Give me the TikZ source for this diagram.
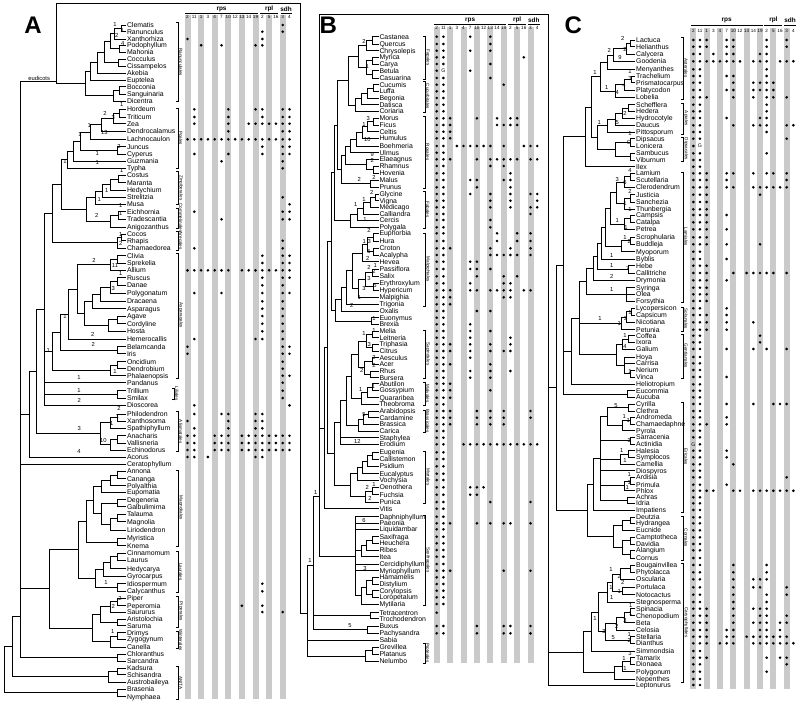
\documentclass[tikz,border=0pt]{standalone}
\usepackage{fontspec}
\newfontfamily\lsans{Liberation Sans}
\definecolor{barc}{RGB}{202,202,202}
\newdimen\tmpdy
\makeatletter
\newcommand\cl[4][]{%
  \gdef\ymn{10000}\gdef\ymx{-10000}%
  \foreach \ch in {#4}{%
    \pgfpointanchor{\ch}{center}\tmpdy=-\pgf@y
    \pgfmathsetmacro\tmpv{min(\ymn,\tmpdy)}\xdef\ymn{\tmpv}%
    \pgfmathsetmacro\tmpv{max(\ymx,\tmpdy)}\xdef\ymx{\tmpv}%
  }%
  \if\relax\detokenize{#1}\relax
    \pgfmathsetmacro\ymid{(\ymn+\ymx)/2}%
  \else
    \def\ymid{#1}%
  \fi
  \coordinate (#2) at (#3,\ymid);
  \foreach \ch in {#4}{\draw[tln] (\ch) -| (#2);}%
}
\makeatother
\newcommand\lf[4]{%
  \coordinate (#1) at (\nmx,#2);
  \node[nm] at (\nmx+0.8,#2+2.4) {#3};
  \if\relax\detokenize{#4}\relax\else
    \foreach \k in {#4}{\fill ({\cxz+\cst*\k},#2) circle[radius=1.45pt];}%
  \fi
}
\newcommand\bars[2]{%
  \foreach \k in {0,2,...,14}{\fill[barc] ({\cxz+\cst*\k-3},#1) rectangle ({\cxz+\cst*\k+3},#2);}%
}
\newcommand\hdr[3]{%
  \node[hd] at ({\cxz+5*\cst},#1) {rps};
  \node[hd] at ({\cxz+12*\cst},#1) {rpl};
  \node[hd] at ({\cxz+14.5*\cst},#1) {sdh};
  \draw[hl] ({\cxz-2.5},#2) -- ({\cxz+10*\cst+2.5},#2);
  \draw[hl] ({\cxz+11*\cst-2.5},#2) -- ({\cxz+13*\cst+2},#2);
  \draw[hl] ({\cxz+14*\cst-2.2},#2) -- ({\cxz+15*\cst+2.5},#2);
  \foreach \lab [count=\i from 0] in {2,11,1,3,4,7,10,12,13,14,19,2,5,16,3,4}
    {\node[cn] at ({\cxz+\cst*\i},#3) {\lab};}%
}
\newcommand\brk[4]{%
  \draw[brk] (#1-2,#2) -- (#1,#2) -- (#1,#3) -- (#1-2,#3);
  \node[clab] at (#1+2.8,{(#2+#3)/2}) {#4};
}
\begin{document}
\begin{tikzpicture}[x=1pt,y=-1pt,
 tln/.style={line width=0.9pt},
 nm/.style={anchor=base west,inner sep=0pt,font=\lsans\fontsize{6.9}{7}\selectfont},
 bnum/.style={inner sep=0pt,font=\lsans\fontsize{5.8}{6}\selectfont},
 hd/.style={inner sep=0pt,font=\lsans\bfseries\fontsize{6.4}{7}\selectfont},
 cn/.style={inner sep=0pt,font=\lsans\fontsize{4.6}{5}\selectfont},
 hl/.style={line width=1pt},
 brk/.style={line width=0.6pt},
 clab/.style={inner sep=0pt,rotate=-90,font=\lsans\fontsize{4.6}{5}\selectfont},
 gm/.style={inner sep=0pt,font=\lsans\fontsize{5.2}{5}\selectfont},
 plab/.style={inner sep=0pt,font=\lsans\bfseries\fontsize{24}{24}\selectfont}]
\useasboundingbox (0,0) rectangle (800,704);
\fill[white] (0,0) rectangle (800,704);
% ================= PANEL A =================
\def\cxz{187.5}\def\cst{6.8}\def\nmx{126}
\bars{15}{699}
\hdr{9}{13.3}{17.3}
\node[plab] at (33,25) {A};
\lf{aClem}{25}{Clematis}{14}
\lf{aRanu}{31.7}{Ranunculus}{11,14}
\lf{aXant}{39}{Xanthorhiza}{0,11}
\lf{aPodo}{45.3}{Podophyllum}{2,5,10,11}
\lf{aMaho}{52.3}{Mahonia}{}
\lf{aCocc}{59.3}{Cocculus}{}
\lf{aCiss}{66.3}{Cissampelos}{}
\lf{aAkeb}{73.3}{Akebia}{}
\lf{aEupt}{80.3}{Euptelea}{}
\lf{aBocc}{86.7}{Bocconia}{}
\lf{aSang}{94}{Sanguinaria}{}
\lf{aDice}{101.3}{Dicentra}{}
\lf{aHord}{109.3}{Hordeum}{1,6,10,11,14,15}
\lf{aTrit}{117}{Triticum}{1,6,11,14,15}
\lf{aZea}{123.7}{Zea}{1,6,9,10,11,12,13,14,15}
\lf{aDend}{131.3}{Dendrocalamus}{6,14,15}
\lf{aLach}{139.3}{Lachnocaulon}{0,...,15}
\lf{aJunc}{146.7}{Juncus}{11,14,15}
\lf{aCype}{154}{Cyperus}{1,6,11,14,15}
\lf{aGuzm}{161.3}{Guzmania}{5,14}
\lf{aTyph}{168.3}{Typha}{14}
\lf{aCost}{175.3}{Costus}{}
\lf{aMara}{182.7}{Maranta}{}
\lf{aHedy}{190.3}{Hedychium}{}
\lf{aStre}{197.3}{Strelitzia}{14}
\lf{aMusa}{204.3}{Musa}{15}
\lf{aEich}{211.7}{Eichhornia}{1,14,15}
\lf{aTrad}{219.3}{Tradescantia}{5,14,15}
\lf{aAnig}{227}{Anigozanthus}{}
\lf{aCoco}{234.3}{Cocos}{}
\lf{aRhap}{240.7}{Rhapis}{14}
\lf{aCham}{248.3}{Chamaedorea}{1,14}
\lf{aCliv}{255.7}{Clivia}{11,14,15}
\lf{aSpre}{263}{Sprekelia}{11,14,15}
\lf{aAlli}{270.3}{Allium}{0,1,2,3,4,5,6,8,9,10,11,12,13,14,15}
\lf{aRusc}{277.7}{Ruscus}{11,14,15}
\lf{aDana}{285.3}{Danae}{11,14}
\lf{aPoly}{293}{Polygonatum}{1,5,11,14,15}
\lf{aDrac}{301.3}{Dracaena}{11,14}
\lf{aAspa}{308.7}{Asparagus}{11,14}
\lf{aAgav}{316}{Agave}{11,14}
\lf{aCord}{323.7}{Cordyline}{11,14}
\lf{aHost}{331.3}{Hosta}{11,14}
\lf{aHeme}{339}{Hemerocallis}{1,10,11,14}
\lf{aBela}{346.7}{Belamcanda}{0,14,15}
\lf{aIris}{353.7}{Iris}{0,14,15}
\lf{aOnci}{361.7}{Oncidium}{14}
\lf{aDenb}{368.7}{Dendrobium}{14}
\lf{aPhal}{375.7}{Phalaenopsis}{14,15}
\lf{aPand}{382.7}{Pandanus}{14}
\lf{aTril}{390.7}{Trillium}{14}
\lf{aSmil}{398}{Smilax}{14}
\lf{aDios}{405.3}{Dioscorea}{1,15}
\lf{aPhil}{414}{Philodendron}{1,5,6,10,11}
\lf{aXans}{421}{Xanthosoma}{0,6,10,11}
\lf{aSpat}{428.3}{Spathiphyllum}{1,6,10,11}
\lf{aAnac}{435.7}{Anacharis}{0,1,4,5,6,8,9,10,11,12,13,14,15}
\lf{aVall}{443}{Vallisneria}{0,1,4,5,6,8,9,10,11,12,13,14,15}
\lf{aEchi}{450}{Echinodorus}{0,1,4,5,6,8,9,10,11,12,13,14,15}
\lf{aAcor}{457}{Acorus}{0,1,3,10,11}
\lf{aCera}{464.3}{Ceratophyllum}{}
\lf{aAnno}{471.3}{Annona}{}
\lf{aCana}{478.7}{Cananga}{}
\lf{aPola}{485.7}{Polyalthia}{}
\lf{aEupo}{492.3}{Eupomatia}{}
\lf{aDege}{499.7}{Degeneria}{}
\lf{aGalb}{506.7}{Galbulimima}{}
\lf{aTala}{514.3}{Talauma}{}
\lf{aMagn}{521.7}{Magnolia}{}
\lf{aLiri}{530.3}{Liriodendron}{}
\lf{aMyri}{538.3}{Myristica}{}
\lf{aKnem}{545.7}{Knema}{}
\lf{aCinn}{553}{Cinnamomum}{}
\lf{aLaur}{560.3}{Laurus}{}
\lf{aHedc}{568.7}{Hedycarya}{}
\lf{aGyro}{576}{Gyrocarpus}{}
\lf{aIdio}{583.7}{Idiospermum}{11}
\lf{aCaly}{591.3}{Calycanthus}{11}
\lf{aPipe}{598}{Piper}{}
\lf{aPepe}{605.7}{Peperomia}{8,11}
\lf{aSaur}{612}{Saururus}{11,14}
\lf{aAris}{619}{Aristolochia}{}
\lf{aSaru}{625.7}{Saruma}{}
\lf{aDrim}{632.7}{Drimys}{}
\lf{aZygo}{639.3}{Zygogynum}{}
\lf{aCane}{647}{Canella}{}
\lf{aChlo}{654}{Chloranthus}{}
\lf{aSarc}{661.3}{Sarcandra}{}
\lf{aKads}{668.3}{Kadsura}{}
\lf{aSchi}{674.7}{Schisandra}{}
\lf{aAust}{682}{Austrobaileya}{}
\lf{aBras}{689}{Brasenia}{}
\lf{aNymp}{696.7}{Nymphaea}{}
% tree A
\cl{aCR}{121}{aClem,aRanu}
\cl{aCRX}{114}{aCR,aXant}
\cl{aPM}{119}{aPodo,aMaho}
\cl{aR4}{110}{aCRX,aPM}
\cl{aCC}{118}{aCocc,aCiss}
\cl{aR3}{104}{aR4,aCC}
\cl{aR2}{97}{aR3,aAkeb}
\cl{aR1}{90}{aR2,aEupt}
\cl{aBS}{119}{aBocc,aSang}
\cl{aPap}{113}{aBS,aDice}
\cl{aRAN}{85}{aR1,aPap}
\cl{aHT}{119}{aHord,aTrit}
\cl{aHTZ}{113}{aHT,aZea}
\cl{aP1}{101}{aHTZ,aDend}
\cl{aP2}{90}{aP1,aLach}
\cl{aJC}{117}{aJunc,aCype}
\cl{aP3}{80}{aP2,aJC}
\cl{aP4}{73}{aP3,aGuzm}
\cl{aPOA}{67}{aP4,aTyph}
\cl{aCM}{118}{aCost,aMara}
\cl{aZ1}{110}{aCM,aHedy}
\cl{aZ2}{102}{aZ1,aStre}
\cl{aZIN}{95}{aZ2,aMusa}
\cl{aET}{118}{aEich,aTrad}
\cl{aCOM}{110}{aET,aAnig}
\cl{aZC}{86}{aZIN,aCOM}
\cl{aPZ}{61}{aPOA,aZC}
\cl{aCoR}{121}{aCoco,aRhap}
\cl{aARE}{117}{aCoR,aCham}
\cl{aCOMM}{52.7}{aPZ,aARE}
\cl{aCS}{117}{aCliv,aSpre}
\cl{aAM}{110}{aCS,aAlli}
\cl{aRD}{117}{aRusc,aDana}
\cl{aRDP}{110}{aRD,aPoly}
\cl{aRDPD}{100}{aRDP,aDrac}
\cl{aRDPDA}{92}{aRDPD,aAspa}
\cl{aAC}{117}{aAgav,aCord}
\cl{aACH}{108}{aAC,aHost}
\cl{aA1}{84}{aRDPDA,aACH}
\cl{aA2}{77}{aAM,aA1}
\cl{aA3}{68}{aA2,aHeme}
\cl{aBI}{117}{aBela,aIris}
\cl{aA4}{60}{aA3,aBI}
\cl{aOD}{117}{aOnci,aDenb}
\cl{aOR}{110}{aOD,aPhal}
\cl{aASP}{52}{aA4,aOR}
\cl{aLIL}{117}{aTril,aSmil}
\cl{aMON1}{44.3}{aCOMM,aASP,aPand,aLIL,aDios}
\cl{aPX}{117}{aPhil,aXans}
\cl{aARA}{110}{aPX,aSpat}
\cl{aAV}{117}{aAnac,aVall}
\cl{aHYD}{110}{aAV,aEchi}
\cl{aALI}{100}{aARA,aHYD}
\cl{aMON2}{36}{aMON1,aALI}
\cl{aMON3}{29.3}{aMON2,aAcor}
\cl{aAC2}{117}{aAnno,aCana}
\cl{aACP}{110}{aAC2,aPola}
\cl{aANN}{101}{aACP,aEupo}
\cl{aDG}{117}{aDege,aGalb}
\cl{aTM}{117}{aTala,aMagn}
\cl{aTML}{110}{aTM,aLiri}
\cl{aDGM}{101}{aDG,aTML}
\cl{aM1}{93}{aANN,aDGM}
\cl{aMK}{117}{aMyri,aKnem}
\cl{aMAG}{86}{aM1,aMK}
\cl{aCL}{117}{aCinn,aLaur}
\cl{aCLH}{110}{aCL,aHedc}
\cl{aCLHG}{103}{aCLH,aGyro}
\cl{aIC}{117}{aIdio,aCaly}
\cl{aLAU}{95}{aCLHG,aIC}
\cl{aML}{78}{aMAG,aLAU}
\cl{aPP}{117}{aPipe,aPepe}
\cl{aPPS}{110}{aPP,aSaur}
\cl{aAS}{117}{aAris,aSaru}
\cl{aPIP}{100}{aPPS,aAS}
\cl{aDZ}{117}{aDrim,aZygo}
\cl{aCAN}{110}{aDZ,aCane}
\cl{aPW}{92}{aPIP,aCAN}
\cl{aMLPW}{49.3}{aML,aPW}
\cl{aCS2}{117}{aChlo,aSarc}
\cl{aKS}{117}{aKads,aSchi}
\cl{aAUS}{108}{aKS,aAust}
\cl{aBN}{117}{aBras,aNymp}
\coordinate (aEU) at (56.7,81.7);
\cl[616.7]{aANG1}{20.7}{aEU,aMON3,aCera,aMLPW,aCS2}
\cl{aANG2}{12.3}{aANG1,aAUS}
\cl{aROOT}{4}{aANG2,aBN}
\node[bnum] at (39.2,78.3) {eudicots};
\foreach \x/\y/\t in {115/25/1,122.3/30.7/1,116.7/35/2,122.7/43.3/4,121.7/105/1,105/113.3/2,113.3/117.3/3,89.3/126/1,80/135/1,104.3/132.7/13,97.3/154/1,119/146.7/2,65/161.7/1,97.3/162.3/1,121.7/170.7/1,106.7/190.7/1,99.3/199.3/1,120.7/206/1,120.7/213.3/1,96.7/215/2,120.7/234.3/1,120.7/243.3/2,94/260/2,115/265.7/11,120.7/273.3/1,113.3/288.3/3,65/316.7/1,92.7/334.3/2,93.3/344.3/2,48.3/350/1,115/371/1,79/377.7/1,79/390/1,79.3/400.7/2,119/408.3/2,117.3/416/1,111.7/423.3/1,79.3/428.3/3,103.3/440/10,79/451.7/4,106/582.7/1,120/598.3/2,113.3/606/2,112.7/631/1}
  {\node[bnum] at (\x,\y) {\t};}
\brk{178}{22.7}{101.7}{Ranunculales}
\brk{178}{108}{168.5}{Poales}
\brk{178}{171.7}{204}{Zingiberales}
\brk{178}{208}{228}{Commelinales}
\brk{178}{231.7}{250}{Arecales}
\brk{178}{253}{378}{Asparagales}
\brk{174}{388}{399}{Liliales}
\brk{178}{411.7}{451.7}{Alismatales}
\brk{178}{470}{546}{Magnoliales}
\brk{178}{551.7}{592}{Laurales}
\brk{178}{596}{627}{Piperales}
\brk{178}{631.7}{648.3}{Winterales}
\brk{178}{666.7}{699}{ANITA}
% ================= PANEL B =================
\def\cxz{436.7}\def\cst{6.7}\def\nmx{378.5}
\bars{26.5}{663}
\hdr{20}{24}{28.3}
\node[plab] at (328.3,25) {B};
\lf{bCast}{36.7}{Castanea}{0,1,5,8}
\lf{bQuer}{44}{Quercus}{0,1,8}
\lf{bChry}{50.7}{Chrysolepis}{0,1,5,8}
\lf{bMyri}{57.3}{Myrica}{0,1,13}
\lf{bCary}{64}{Carya}{0,1,8}
\lf{bBetu}{70.7}{Betula}{0,5}
\node[gm] at ({\cxz+\cst},70.7) {G};
\lf{bCasu}{78}{Casuarina}{0,1,8}
\lf{bCucu}{84.7}{Cucumis}{0,1,10}
\lf{bLuff}{91.3}{Luffa}{0,1}
\lf{bBego}{98}{Begonia}{0,1}
\lf{bDati}{104.7}{Datisca}{0,1}
\lf{bCori}{111.3}{Coriaria}{0,1}
\lf{bMoru}{118.3}{Morus}{0,1,2,6,9,11,12}
\lf{bFicu}{125}{Ficus}{0,1,2,9,10,11,12}
\lf{bCelt}{131.7}{Celtis}{0,1,2}
\lf{bHumu}{138.3}{Humulus}{0,1,2}
\lf{bBoeh}{146}{Boehmeria}{0,1,3,4,5,6,7,8,10,13,14,15}
\lf{bUlmu}{152.7}{Ulmus}{0,1}
\lf{bElae}{159.3}{Elaeagnus}{0,1,2,6,8,9,10,11,12,14,15}
\lf{bRham}{166}{Rhamnus}{0,1,8,10}
\lf{bHove}{173.3}{Hovenia}{0,1,11}
\lf{bMalu}{180}{Malus}{0,1,5,6,10,11}
\lf{bPrun}{187.3}{Prunus}{0,1,6,11}
\lf{bGlyc}{194}{Glycine}{0,1,5,8,11,14,15}
\lf{bVign}{200.7}{Vigna}{0,1,8,11,15}
\lf{bMedi}{207.3}{Medicago}{0,1,8,11,14,15}
\lf{bCall}{214}{Calliandra}{0,1,14}
\lf{bCerc}{220}{Cercis}{0,1,8}
\lf{bPolg}{227.3}{Polygala}{0,1,8}
\lf{bEuph}{233.3}{Euphorbia}{0,1,9,12,14}
\lf{bHura}{241}{Hura}{0,1,9,12,14}
\lf{bCrot}{248.3}{Croton}{0,1,2,8,11,14}
\lf{bAcal}{255}{Acalypha}{0,1,8,9,10,11,12,14}
\lf{bHeve}{261.7}{Hevea}{0,1,5,6}
\lf{bPass}{269}{Passiflora}{0,1,5,6,8}
\lf{bSali}{276.3}{Salix}{0,1,6,10,12}
\lf{bEryt}{283.3}{Erythroxylum}{0,1,5,10,11}
\lf{bHype}{290.3}{Hypericum}{0,1,2,5,6,8,9,10,11,13,14}
\lf{bMalp}{297.3}{Malpighia}{0,1,2,10,11}
\lf{bTrig}{304.3}{Trigonia}{0,1,2}
\lf{bOxal}{311}{Oxalis}{0,1,6,8}
\lf{bEuon}{317.7}{Euonymus}{0,1}
\lf{bBrex}{324.3}{Brexia}{0,1,5}
\lf{bMeli}{331}{Melia}{0,1,5,8}
\lf{bLeit}{337.7}{Leitneria}{0,1,5,11}
\lf{bTrip}{344.3}{Triphasia}{0,1,2,5,8,11}
\lf{bCitr}{351}{Citrus}{0,1,2,5,8,10,11}
\lf{bAesc}{357.7}{Aesculus}{0,1,5}
\lf{bAcer}{364.3}{Acer}{0,1,2,8}
\lf{bRhus}{371}{Rhus}{0,1,5,8,11}
\lf{bBurs}{377.7}{Bursera}{0,1,5,8}
\lf{bAbut}{383.7}{Abutilon}{0,1,2}
\lf{bGoss}{390.3}{Gossypium}{0,1,2,8}
\lf{bQuar}{397.7}{Quararibea}{0,1,2}
\lf{bTheo}{404.3}{Theobroma}{0,1}
\lf{bArab}{411}{Arabidopsis}{0,1,2,6,8,10,14}
\lf{bCard}{417.7}{Cardamine}{0,1,2,6,8,10,14}
\lf{bBras}{424.3}{Brassica}{0,1,2,6,8,10}
\lf{bCari}{431}{Carica}{0,1}
\lf{bStap}{437.7}{Staphylea}{0,1}
\lf{bErod}{444.3}{Erodium}{0,1,4,5,6,7,8,9,10,11,12,13,14,15}
\lf{bEuge}{452.3}{Eugenia}{0,1}
\lf{bCals}{459}{Callistemon}{0,1}
\lf{bPsid}{466.3}{Psidium}{0,1}
\lf{bEuca}{473.7}{Eucalyptus}{0,1}
\lf{bVoch}{480}{Vochysia}{0,1}
\lf{bOeno}{487.3}{Oenothera}{0,1,5,6,7}
\lf{bFuch}{494.7}{Fuchsia}{0,1,5,6}
\lf{bPuni}{502}{Punica}{0,1,8,14}
\lf{bViti}{508.7}{Vitis}{0,1}
\lf{bDaph}{516.7}{Daphniphyllum}{0,1}
\lf{bPaeo}{523.3}{Paeonia}{0,1,2,6,8,10,11,14}
\lf{bLiqu}{529.3}{Liquidambar}{0,1}
\lf{bSaxi}{536.7}{Saxifraga}{0,1}
\lf{bHeuc}{543.3}{Heuchera}{0,1}
\lf{bRibe}{550}{Ribes}{0,1}
\lf{bItea}{556.7}{Itea}{0,1}
\lf{bCerd}{564}{Cercidiphyllum}{0,1}
\lf{bMyrp}{570.7}{Myriophyllum}{0,1,2,10,14}
\lf{bHama}{577.3}{Hamamelis}{0,1}
\lf{bDist}{584}{Distylium}{0,1}
\lf{bCory}{590.7}{Corylopsis}{0,1}
\lf{bLoro}{597.3}{Loropetalum}{0,1}
\lf{bMyti}{604}{Mytilaria}{0,1}
\lf{bTetr}{612.7}{Tetracentron}{0}
\lf{bTroc}{618.7}{Trochodendron}{}
\lf{bBuxu}{626}{Buxus}{0,1,6,10,11,14}
\lf{bPach}{633.3}{Pachysandra}{0,1,6,10,11,14}
\lf{bSabi}{640}{Sabia}{}
\lf{bGrev}{647.3}{Grevillea}{}
\lf{bPlat}{654}{Platanus}{}
\lf{bNelu}{661.3}{Nelumbo}{}
% tree B
\cl{bCQ}{372}{bCast,bQuer}
\cl{bCQC}{366}{bCQ,bChry}
\cl{bMC}{372}{bMyri,bCary}
\cl{bBC}{372}{bBetu,bCasu}
\cl{bMCBC}{366}{bMC,bBC}
\cl{bFAG}{358}{bCQC,bMCBC}
\cl{bCL}{373}{bCucu,bLuff}
\cl{bCLB}{367}{bCL,bBego}
\cl{bCLBD}{361}{bCLB,bDati}
\cl{bCUC}{355}{bCLBD,bCori}
\cl{bFC}{348}{bFAG,bCUC}
\cl{bMF}{373}{bMoru,bFicu}
\cl{bMFC}{367}{bMF,bCelt}
\cl{bMFCH}{362}{bMFC,bHumu}
\cl{bURT}{356}{bMFCH,bBoeh}
\cl{bURTU}{350}{bURT,bUlmu}
\cl{bRH}{373}{bRham,bHove}
\cl{bERH}{366}{bElae,bRH}
\cl{bROS1}{345}{bURTU,bERH}
\cl{bMP}{370}{bMalu,bPrun}
\cl{bROS}{341}{bROS1,bMP}
\cl{bFCR}{337}{bFC,bROS}
\cl{bGV}{375}{bGlyc,bVign}
\cl{bGVM}{370}{bGV,bMedi}
\cl{bGVMC}{363}{bGVM,bCall}
\cl{bGVMCC}{357}{bGVMC,bCerc}
\cl{bFAB}{350}{bGVMCC,bPolg}
\cl{bNFC}{334}{bFCR,bFAB}
\cl{bEH}{373}{bEuph,bHura}
\cl{bCA}{373}{bCrot,bAcal}
\cl{bEHCA}{367}{bEH,bCA}
\cl{bEUP}{362}{bEHCA,bHeve}
\cl{bPS}{372}{bPass,bSali}
\cl{bEHY}{373}{bEryt,bHype}
\cl{bPE}{365}{bPS,bEHY}
\cl{bPEM}{358}{bPE,bMalp}
\cl{bMAL1}{352}{bEUP,bPEM}
\cl{bMALP}{346}{bMAL1,bTrig}
\cl{bMO}{341}{bMALP,bOxal}
\cl{bCEL}{371}{bEuon,bBrex}
\cl{bMOC}{335}{bMO,bCEL}
\cl{bFABID}{331}{bNFC,bMOC}
\cl{bML}{372}{bMeli,bLeit}
\cl{bTC}{372}{bTrip,bCitr}
\cl{bMLTC}{366}{bML,bTC}
\cl{bAA}{372}{bAesc,bAcer}
\cl{bRB}{370}{bRhus,bBurs}
\cl{bAARB}{364}{bAA,bRB}
\cl{bSAP}{358}{bMLTC,bAARB}
\cl{bAG}{372}{bAbut,bGoss}
\cl{bAGQ}{367}{bAG,bQuar}
\cl{bMALV}{361}{bAGQ,bTheo}
\cl{bSM}{351}{bSAP,bMALV}
\cl{bACa}{368}{bArab,bCard}
\cl{bACB}{363}{bACa,bBras}
\cl{bBRA}{358}{bACB,bCari}
\cl{bSMB}{346}{bSM,bBRA}
\cl{bSMBS}{340}{bSMB,bStap,bErod}
\cl{bEC}{372}{bEuge,bCals}
\cl{bECP}{367}{bEC,bPsid}
\cl{bECPE}{362}{bECP,bEuca}
\cl{bMYR1}{357}{bECPE,bVoch}
\cl{bOF}{372}{bOeno,bFuch}
\cl{bOFP}{365}{bOF,bPuni}
\cl{bMYRT}{350}{bMYR1,bOFP}
\cl{bMALVID}{334}{bSMBS,bMYRT}
\cl{bCR}{327.5}{bFABID,bMALVID}
\cl{bROSID}{324}{bCR,bViti}
\cl{bSH}{372}{bSaxi,bHeuc}
\cl{bSHR}{366}{bSH,bRibe}
\cl{bSHRI}{361}{bSHR,bItea}
\cl{bHD}{372}{bHama,bDist}
\cl{bCLo}{372}{bCory,bLoro}
\cl{bHDCL}{366}{bHD,bCLo}
\cl{bHAM}{361}{bHDCL,bMyti}
\cl{bSAX}{355}{bDaph,bPaeo,bLiqu,bSHRI,bCerd,bMyrp,bHAM}
\cl[496.7]{bCORE}{319.3}{bROSID,bSAX}
\cl{bTRO}{370}{bTetr,bTroc}
\cl{bBUX}{367}{bBuxu,bPach}
\cl[565]{bE3}{313.3}{bCORE,bTRO,bBUX}
\cl{bGP}{372}{bGrev,bPlat}
\cl{bPRO}{365}{bGP,bNelu}
\cl[613.3]{bE2}{307.7}{bE3,bSabi,bPRO}
\foreach \x/\y/\t in {364/41.7/2,367.3/66.7/1,368.3/118.3/3,364/124.3/1,367.3/140/10,372.3/154.3/9,372.3/160/2,359.3/179.3/2,374/177.7/2,371.7/192.7/2,364/199.3/1,355.7/205/1,365/219.3/1,369/230.7/2,364.3/241.7/1,369.3/241.7/3,369/251.7/5,367.7/258.3/2,369/267.7/2,375.3/265.7/1,374/271.7/2,369/278.3/3,375/285.7/5,364/288.3/3,359.3/297.7/1,351.7/305.7/2,374/318.3/1,374/331/1,364/333.7/1,369.3/344.3/3,374/357.7/2,374/365/2,361.7/370/2,360.7/389/1,373.3/386.7/1,364/415/5,357.3/441.7/12,374/484/1,367.3/487.3/2,370/498.3/2,315.7/492.3/1,364/520.7/6,310/560/1,365/568.3/3,350/625.7/5}
  {\node[bnum] at (\x,\y) {\t};}
\brk{425}{36}{79}{Fagales}
\brk{425}{81}{112}{Cucurbitales}
\brk{425}{116}{188}{Rosales}
\brk{425}{191}{228}{Fabales}
\brk{425}{233}{306}{Malpighiales}
\brk{425}{330}{378}{Sapindales}
\brk{425}{382}{405}{Malvales}
\brk{425}{410}{432}{Brassicales}
\brk{425}{451}{503}{Myrtales}
\brk{425}{515}{605}{Saxifragales}
\brk{425}{643}{663}{Proteales}
% ================= PANEL C =================
\def\cxz{693.3}\def\cst{6.67}\def\nmx{635.2}
\bars{28}{688.5}
\hdr{20}{25}{30.7}
\node[plab] at (573.3,25) {C};
\lf{cLact}{40}{Lactuca}{0,1,2,5,6,11,14}
\lf{cHeli}{46.7}{Helianthus}{0,1,2,5,6,11,14}
\lf{cCaly}{54}{Calycera}{0,1,3,5,6,10,11}
\lf{cGood}{61.3}{Goodenia}{0,1,2,3,4,5,6,7,9,10,11,13,14,15}
\lf{cMeny}{69.3}{Menyanthes}{0,1,11}
\lf{cTrac}{76}{Trachelium}{0,1,5,6,11}
\lf{cPris}{82.7}{Prismatocarpus}{0,1,6,9,10,11,12}
\lf{cPlat}{90}{Platycodon}{0,1,5,6,9,10,11,12}
\lf{cLobe}{97.3}{Lobelia}{0,1,2,6,9,11,12,14}
\lf{cSche}{104.7}{Schefflera}{0,1,11}
\lf{cHede}{111.3}{Hedera}{0,1,11}
\lf{cHydr}{118}{Hydrocotyle}{0,1,5,10,11}
\lf{cDauc}{125.3}{Daucus}{0,1,6,9,10,11,14,15}
\lf{cPitt}{132}{Pittosporum}{0,1,11}
\lf{cDips}{138.7}{Dipsacus}{0,1,14}
\lf{cLoni}{146}{Lonicera}{0}
\node[gm] at ({\cxz+\cst},146) {G};
\lf{cSamb}{153.3}{Sambucus}{0,1,11}
\lf{cVibu}{160}{Viburnum}{0,1}
\lf{cIlex}{166.7}{Ilex}{0,1}
\lf{cLami}{173.3}{Lamium}{0,1,2,5,6,9,11,12,14}
\lf{cScut}{180}{Scutellaria}{0,1,2,5,14}
\lf{cCler}{187.3}{Clerodendrum}{0,1,2,5,6,9,10,11,12,13,14}
\lf{cJust}{194.7}{Justicia}{0,1,2,10}
\lf{cSanc}{202}{Sanchezia}{0,1,2}
\lf{cThun}{209.3}{Thunbergia}{0,1,2}
\lf{cCamp}{215}{Campsis}{0,1,2,5}
\lf{cCata}{222.3}{Catalpa}{0,1,2}
\lf{cPetr}{229.3}{Petrea}{0,1,2,5}
\lf{cScro}{237.3}{Scrophularia}{0,1,2}
\lf{cBudd}{244.3}{Buddleja}{0,1,2,5,10}
\lf{cMyop}{251.7}{Myoporum}{0,1}
\lf{cBybl}{259}{Byblis}{0,1,5}
\lf{cHebe}{265.7}{Hebe}{0,1,2}
\lf{cCall}{273}{Callitriche}{0,1,2,6,8,9,10,11,12,14}
\lf{cDrym}{280.3}{Drymonia}{0,1,2,5}
\lf{cSyri}{287.7}{Syringa}{0,1,2}
\lf{cOlea}{294.3}{Olea}{0,1,2}
\lf{cFors}{301}{Forsythia}{0,1,2}
\lf{cLyco}{308.3}{Lycopersicon}{0,1,5}
\lf{cCaps}{315}{Capsicum}{0,1,2,5}
\lf{cNico}{322.3}{Nicotiana}{0,1,2,5,9}
\lf{cPetu}{329.7}{Petunia}{0,1,2,5}
\lf{cCoff}{335.7}{Coffea}{0,1,10}
\lf{cIxor}{342.3}{Ixora}{0,1,10}
\lf{cGali}{349}{Galium}{0,1,5,9,11,14}
\lf{cHoya}{357}{Hoya}{0,1}
\lf{cCarr}{363.3}{Carrisa}{0,1}
\lf{cNeri}{370}{Nerium}{0,1}
\lf{cVinc}{377}{Vinca}{0,1,5}
\lf{cHelt}{384.3}{Heliotropium}{0,1}
\lf{cEuco}{390.7}{Eucommia}{0,1}
\lf{cAucu}{397.3}{Aucuba}{0,1}
\lf{cCyri}{404}{Cyrilla}{0,1,5,9,12,13,14}
\lf{cClet}{411}{Clethra}{0,1}
\lf{cAndr}{417.3}{Andromeda}{0,1,5}
\lf{cCham}{424.3}{Chamaedaphne}{0,1,2,5}
\lf{cPyro}{430.7}{Pyrola}{0,1}
\lf{cSarr}{437.3}{Sarracenia}{0,1}
\lf{cActi}{444.3}{Actinidia}{1}
\node[gm] at ({\cxz},444.3) {G};
\lf{cHale}{450.7}{Halesia}{0,1,5}
\lf{cSymp}{457.3}{Symplocos}{0,1,5}
\lf{cCame}{464.3}{Camellia}{0,1,6}
\lf{cDios}{470.7}{Diospyros}{0,1}
\lf{cArdi}{477.3}{Ardisia}{0,1,14}
\lf{cPrim}{484.7}{Primula}{0,1,5}
\lf{cPhlo}{490.7}{Phlox}{0,1,2,3,6,7,9,10,11,12,13,14,15}
\lf{cAchr}{497.3}{Achras}{0,1}
\lf{cIdri}{503.3}{Idria}{0,1}
\lf{cImpa}{510}{Impatiens}{0,1}
\lf{cDeut}{517.3}{Deutzia}{0,1}
\lf{cHydg}{523.3}{Hydrangea}{0,1}
\lf{cEucn}{530.3}{Eucnide}{0,1}
\lf{cCamt}{537.3}{Camptotheca}{0,1}
\lf{cDavi}{544}{Davidia}{0,1}
\lf{cAlan}{550.3}{Alangium}{0,1}
\lf{cCorn}{558}{Cornus}{0,1}
\lf{cBoug}{565}{Bougainvillea}{0,1,6,11}
\lf{cPhyt}{572.3}{Phytolacca}{0,1,6,11}
\lf{cOscu}{579.3}{Oscularia}{0,1,6,9,10,11}
\lf{cPort}{587.3}{Portulaca}{0,1,6,9,10,14}
\lf{cNoto}{594.7}{Notocactus}{0,1,6,11,14}
\lf{cSteg}{602}{Stegnosperma}{0,1,6,11}
\lf{cSpin}{608.7}{Spinacia}{0,1,2,6,9,10,11}
\lf{cChen}{615.7}{Chenopodium}{0,1,2,6,10,11,14}
\lf{cBeta}{622.7}{Beta}{0,1,2,6,9,10,11,13,14}
\lf{cCelo}{630}{Celosia}{0,1,2,5,6,10,11,13}
\lf{cStel}{636.7}{Stellaria}{0,1,2,5,6,8,9,10,11,12,13,14}
\lf{cDian}{643.3}{Dianthus}{0,1,2,4,5,6,9,10,11,12,13,14,15}
\lf{cSimm}{651}{Simmondsia}{0,1}
\lf{cTama}{657.7}{Tamarix}{0,1,2,11,13,14}
\lf{cDion}{664.3}{Dionaea}{0,1,14}
\lf{cPolg}{671.7}{Polygonum}{0,1,11}
\lf{cNepe}{679}{Nepenthes}{0,1}
\lf{cLept}{685}{Leptonurus}{0,1}
% tree C
\cl{cLH}{630}{cLact,cHeli}
\cl{cLHC}{626}{cLH,cCaly}
\cl{cAST1}{613}{cLHC,cGood}
\cl{cAST2}{607}{cAST1,cMeny}
\cl{cTP}{631}{cTrac,cPris}
\cl{cTPP}{624}{cTP,cPlat}
\cl{cCAMP}{615}{cTPP,cLobe}
\cl{cASTE}{600}{cAST2,cCAMP}
\cl{cSH}{628}{cSche,cHede}
\cl{cSHH}{622}{cSH,cHydr}
\cl{cAPIA}{615}{cSHH,cDauc}
\cl{cAPI}{607}{cAPIA,cPitt}
\cl{cDL}{630}{cDips,cLoni}
\cl{cSV}{630}{cSamb,cVibu}
\cl{cDIPS}{615}{cDL,cSV}
\cl{cAPD}{597}{cAPI,cDIPS}
\cl{cEU2a}{591.7}{cASTE,cAPD}
\cl{cEU2}{585}{cEU2a,cIlex}
\cl{cLS}{630}{cLami,cScut}
\cl{cLSC}{624}{cLS,cCler}
\cl{cJS}{630}{cJust,cSanc}
\cl{cJST}{624}{cJS,cThun}
\cl{cLAM1}{616}{cLSC,cJST}
\cl{cCC}{630}{cCamp,cCata}
\cl{cCCP}{624}{cCC,cPetr}
\cl{cLAM2}{610}{cLAM1,cCCP}
\cl{cSB}{630}{cScro,cBudd}
\cl{cSBM}{621}{cSB,cMyop}
\cl{cLAM3}{605}{cLAM2,cSBM}
\cl{cLAM4}{601}{cLAM3,cBybl}
\cl{cHC}{628}{cHebe,cCall}
\cl{cLAM5}{597}{cLAM4,cHC}
\cl{cLAM6}{593}{cLAM5,cDrym}
\cl{cOLE}{626}{cSyri,cOlea,cFors}
\cl{cLAM}{586}{cLAM6,cOLE}
\cl{cLC}{631}{cLyco,cCaps}
\cl{cLCN}{626}{cLC,cNico}
\cl{cSOL}{621}{cLCN,cPetu}
\cl{cCI}{628}{cCoff,cIxor}
\cl{cCIG}{622}{cCI,cGali}
\cl{cNV}{630}{cNeri,cVinc}
\cl{cAPO}{624}{cHoya,cCarr,cNV}
\cl{cGEN}{616}{cCIG,cAPO}
\cl{cEU1a}{579.3}{cLAM,cSOL,cGEN}
\cl{cEU1}{571.7}{cEU1a,cHelt}
\cl{cGAR}{627}{cEuco,cAucu}
\cl{cEUAST}{563.3}{cEU2,cEU1,cGAR}
\cl{cCC2}{628}{cCyri,cClet}
\cl{cAC2}{630}{cAndr,cCham}
\cl{cACP}{622}{cAC2,cPyro}
\cl{cERI1}{607}{cCC2,cACP}
\cl{cSA}{630}{cSarr,cActi}
\cl{cHS}{628}{cHale,cSymp}
\cl{cHSC}{620}{cHS,cCame}
\cl{cAP}{630}{cArdi,cPrim}
\cl{cAPP}{624}{cAP,cPhlo}
\cl{cAI}{627}{cAchr,cIdri}
\cl{cERI2}{600}{cERI1,cSA,cHSC,cDios,cAPP,cAI}
\cl{cERIC}{593}{cERI2,cImpa}
\cl{cDH}{630}{cDeut,cHydg}
\cl{cDHE}{622}{cDH,cEucn}
\cl{cCD}{630}{cCamt,cDavi}
\cl{cACo}{630}{cAlan,cCorn}
\cl{cCDA}{622}{cCD,cACo}
\cl{cCORN}{613}{cDHE,cCDA}
\cl{cERCO}{587}{cERIC,cCORN}
\cl{cASTER}{556}{cEUAST,cERCO}
\cl{cBP}{630}{cBoug,cPhyt}
\cl{cBPO}{620}{cBP,cOscu}
\cl{cPN}{622}{cPort,cNoto}
\cl{cCAR1}{612}{cBPO,cPN}
\cl{cCAR2}{607}{cCAR1,cSteg}
\cl{cSC}{630}{cSpin,cChen}
\cl{cSCB}{624}{cSC,cBeta}
\cl{cAMA}{616}{cSCB,cCelo}
\cl{cSD}{630}{cStel,cDian}
\cl{cCAR3}{605}{cAMA,cSD}
\cl{cCAR4}{598}{cCAR2,cCAR3}
\cl{cCAR5}{591.7}{cCAR4,cSimm}
\cl{cTD}{630}{cTama,cDion}
\cl{cTDP}{622}{cTD,cPolg}
\cl{cPOLY}{614}{cTDP,cNepe}
\cl{cCARYO}{583}{cCAR5,cPOLY}
\cl{cROOT}{548.3}{cASTER,cCARYO,cLept}
\foreach \x/\y/\t in {622.7/38.3/2,625/49.3/2,609.3/50.7/2,620/57.3/9,595/72.7/1,630/71.7/1,630/79/3,624/86/4,606.7/87.3/1,617.3/92.7/4,625/113.3/2,599.3/122.7/1,617.3/122.7/5,630/133.3/1,629/142.7/G,630/171/4,617.3/179.3/3,625/182.7/6,630/191/2,625/203.3/1,630/209.3/1,617.3/220.7/1,626/227.3/1,625/237.3/1,629.3/241/2,611.7/255.7/1,611.7/265.7/1,627.7/269/7,611.7/276.3/2,611.7/290/1,630/312.3/1,625.7/318.3/2,619.3/323.3/1,600/318.3/1,625/335.7/1,625/346.7/4,630/371.7/1,616/405.7/5,624.3/416/1,628.3/420/1,629.3/440.7/3,621.7/450/1,625/460/1,629.3/474/1,629.3/482/1,627.3/487/1,611/569/1,619.3/576/2,622.7/582.7/2,611/587.3/1,619.3/591.7/1,611.7/597.7/1,630.7/605/1,630.7/613.3/1,625/620.7/3,595/618.3/1,616.7/626.7/2,604/631.7/3,613.3/637.3/5,629.3/634/1,629.3/640/2,630/653.3/3,624/658.3/1,625/668.3/1}
  {\node[bnum] at (\x,\y) {\t};}
\brk{683.3}{37}{99}{Asterales}
\brk{683.3}{103}{134}{Apiales}
\brk{683.3}{137}{161}{Dipsacales}
\brk{683.3}{172}{302}{Lamiales}
\brk{683.3}{307}{331}{Solanales}
\brk{683.3}{334}{378}{Gentianales}
\brk{683.3}{402}{512}{Ericales}
\brk{683.3}{516}{560}{Cornales}
\brk{683.3}{563}{682}{Caryophyllales}
% ================= frames =================
\draw[tln] (56.7,3.3) |- (aRAN);
\draw[tln] (56.7,3.3) -- (300,3.3) |- (bE2);
\draw[tln] (bCORE) -- (319.3,14) -- (548.3,14) -- (cROOT);
\end{tikzpicture}
\end{document}
